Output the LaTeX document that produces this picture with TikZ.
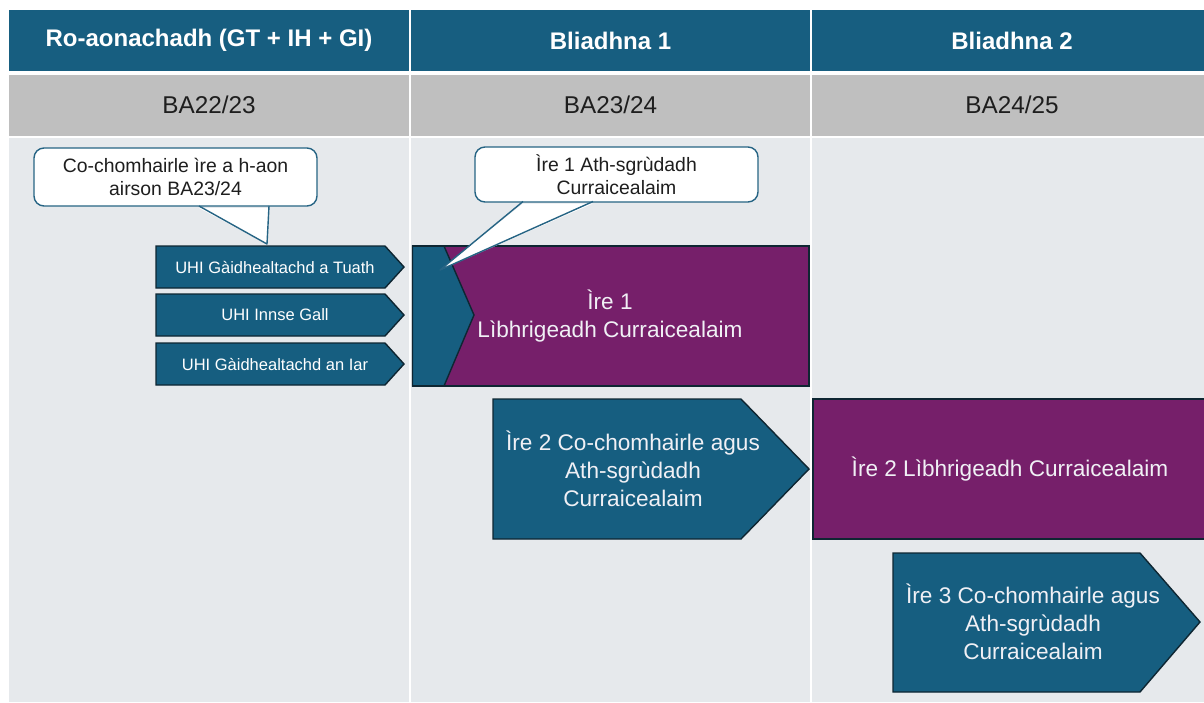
\documentclass[tikz,border=0pt]{standalone}
\usepackage{fontspec}
\setmainfont{Liberation Sans}
\definecolor{hdrblue}{RGB}{23,94,128}
\definecolor{arrblue}{RGB}{22,94,128}
\definecolor{edgedark}{RGB}{14,38,50}
\definecolor{purp}{RGB}{118,31,106}
\definecolor{rowgray}{RGB}{191,191,191}
\definecolor{bodygray}{RGB}{230,233,236}
\definecolor{calloutline}{RGB}{38,100,132}
\definecolor{txtdark}{RGB}{30,30,30}
\definecolor{txtlight}{RGB}{240,240,245}
\tikzset{
  hdrcell/.style={fill=hdrblue, text=white, inner sep=0pt, font=\fontsize{24}{29}\selectfont\bfseries, minimum height=61pt},
  graycell/.style={fill=rowgray, text=txtdark, inner sep=0pt, font=\fontsize{24.3}{29}\selectfont, minimum height=61.5pt},
  arrowshape/.style={fill=arrblue, draw=edgedark, line width=1.4pt, line join=miter},
  purpshape/.style={fill=purp, draw=edgedark, line width=1.4pt},
  smalltxt/.style={text=white, font=\fontsize{16.5}{19}\selectfont, inner sep=0pt},
  bigtxt/.style={text=txtlight, font=\fontsize{22.6}{28}\selectfont, inner sep=0pt, align=center},
  callbox/.style={fill=white, draw=calloutline, line width=1.4pt, rounded corners=10pt, inner sep=0pt, align=center, text=txtdark, font=\fontsize{19.4}{23}\selectfont},
  tailedge/.style={draw=calloutline, line width=1.4pt, line join=round},
}
\begin{document}
\begin{tikzpicture}[x=1pt, y=-1pt]
\useasboundingbox (0,0) rectangle (1204,702);
\clip (0,0) rectangle (1204,702);
\fill[white] (0,0) rectangle (1204,702);
% header row
\node[hdrcell, minimum width=400pt] (h1) at (209,40.5) {Ro-aonachadh (GT + IH + GI)};
\node[hdrcell, minimum width=399pt] (h2) at (610.5,40.5) {Bliadhna 1};
\node[hdrcell, minimum width=400pt] (h3) at (1012,40.5) {Bliadhna 2};
% gray row
\node[graycell, minimum width=400pt] (g1) at (209,105.25) {BA22/23};
\node[graycell, minimum width=399pt] (g2) at (610.5,105.25) {BA23/24};
\node[graycell, minimum width=400pt] (g3) at (1012,105.25) {BA24/25};
% body columns
\fill[bodygray] (9,138) rectangle (409,702);
\fill[bodygray] (411,138) rectangle (810,702);
\fill[bodygray] (812,138) rectangle (1212,702);
% small arrows
\draw[arrowshape] (156,246) -- (385,246) -- (404,267) -- (385,288) -- (156,288) -- cycle;
\draw[arrowshape] (156,294) -- (385,294) -- (404,315) -- (385,336) -- (156,336) -- cycle;
\draw[arrowshape] (156,343) -- (385,343) -- (404,364) -- (385,385) -- (156,385) -- cycle;
\node[smalltxt] (a1) at (275,267) {UHI Gàidhealtachd a Tuath};
\node[smalltxt] (a2) at (275,315) {UHI Innse Gall};
\node[smalltxt] (a3) at (275,364) {UHI Gàidhealtachd an Iar};
% big box Ire 1
\fill[purp] (412.5,246) rectangle (809,386);
\draw[arrowshape] (412.5,246) -- (444,246) -- (474,315) -- (444,386) -- (412.5,386) -- cycle;
\draw[draw=edgedark, line width=1.4pt] (412.5,246) rectangle (809,386);
\node[bigtxt] (p1) at (610,316) {Ìre 1\\Lìbhrigeadh Curraicealaim};
% Ire 2 arrow
\draw[arrowshape] (493,399) -- (741,399) -- (809,469) -- (741,539) -- (493,539) -- cycle;
\node[bigtxt] (b2) at (633,469) {Ìre 2 Co-chomhairle agus\\Ath-sgrùdadh\\Curraicealaim};
% purple 2
\draw[purpshape] (813,399) rectangle (1212,539);
\node[bigtxt] (p2) at (1010,469) {Ìre 2 Lìbhrigeadh Curraicealaim};
% Ire 3 arrow
\draw[arrowshape] (893,553) -- (1140,553) -- (1200,622) -- (1140,692) -- (893,692) -- cycle;
\node[bigtxt] (b3) at (1033,622) {Ìre 3 Co-chomhairle agus\\Ath-sgrùdadh\\Curraicealaim};
% callout 1
\node[callbox, minimum width=283pt, minimum height=58pt] (c1) at (175.5,177) {Co-chomhairle ìre a h-aon\\airson BA23/24};
\coordinate (c1tip) at (267,244);
\coordinate (c1l) at (199,206);
\coordinate (c1r) at (269,206);
\fill[white] ([yshift=-2pt]c1l) -- (c1tip) -- ([yshift=-2pt]c1r) -- cycle;
\draw[tailedge] (c1l) -- (c1tip) -- (c1r);
% callout 2
\node[callbox, minimum width=283pt, minimum height=55pt] (c2) at (616.5,174.5) {Ìre 1 Ath-sgrùdadh\\Curraicealaim};
\coordinate (c2tip) at (440,270);
\coordinate (c2l) at (523,201.5);
\coordinate (c2r) at (593,201.5);
\fill[white] ([yshift=-2pt]c2l) -- (c2tip) -- ([yshift=-2pt]c2r) -- cycle;
\draw[tailedge] (c2l) -- (c2tip) -- (c2r);
\end{tikzpicture}
\end{document}
